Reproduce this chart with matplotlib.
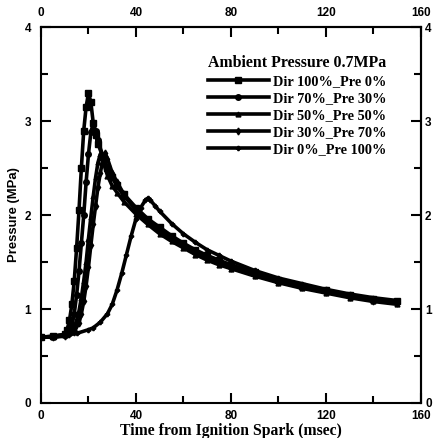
import matplotlib
matplotlib.use("Agg")
import matplotlib.pyplot as plt
from matplotlib.ticker import MultipleLocator

# ---- data ----
t_100 = [0, 5, 10, 11, 12, 13, 14, 15, 16, 17, 18, 19, 20, 21, 22, 23, 24, 26, 28, 30, 32, 35, 40, 45, 50, 55, 60, 65, 70, 75, 80, 90, 100, 110, 120, 130, 140, 150]
p_100 = [0.70, 0.71, 0.73, 0.78, 0.88, 1.05, 1.30, 1.65, 2.05, 2.50, 2.90, 3.15, 3.30, 3.20, 2.98, 2.85, 2.76, 2.62, 2.50, 2.40, 2.32, 2.22, 2.08, 1.96, 1.87, 1.78, 1.70, 1.63, 1.57, 1.52, 1.47, 1.39, 1.31, 1.25, 1.20, 1.15, 1.11, 1.08]

t_70 = [0, 5, 10, 12, 13, 14, 15, 16, 17, 18, 19, 20, 21, 22, 23, 24, 26, 28, 30, 32, 35, 40, 45, 50, 55, 60, 65, 70, 75, 80, 90, 100, 110, 120, 130, 140, 150]
p_70 = [0.70, 0.71, 0.73, 0.76, 0.82, 0.95, 1.15, 1.40, 1.70, 2.00, 2.35, 2.65, 2.88, 2.98, 2.90, 2.80, 2.63, 2.50, 2.40, 2.31, 2.20, 2.06, 1.94, 1.84, 1.76, 1.68, 1.61, 1.55, 1.50, 1.45, 1.37, 1.30, 1.24, 1.19, 1.14, 1.10, 1.07]

t_50 = [0, 5, 10, 12, 14, 15, 16, 17, 18, 19, 20, 21, 22, 23, 24, 25, 26, 28, 30, 32, 35, 40, 45, 50, 55, 60, 65, 70, 75, 80, 90, 100, 110, 120, 130, 140, 150]
p_50 = [0.70, 0.70, 0.72, 0.74, 0.80, 0.88, 0.98, 1.12, 1.30, 1.50, 1.75, 1.98, 2.20, 2.40, 2.56, 2.65, 2.58, 2.42, 2.31, 2.24, 2.14, 2.01, 1.90, 1.80, 1.72, 1.65, 1.58, 1.52, 1.47, 1.43, 1.35, 1.28, 1.22, 1.17, 1.12, 1.08, 1.05]

t_30 = [0, 5, 10, 12, 14, 16, 17, 18, 19, 20, 21, 22, 23, 24, 25, 26, 27, 28, 30, 32, 35, 40, 45, 50, 55, 60, 65, 70, 75, 80, 90, 100, 110, 120, 130, 140, 150]
p_30 = [0.70, 0.70, 0.71, 0.73, 0.76, 0.85, 0.95, 1.08, 1.25, 1.45, 1.68, 1.90, 2.10, 2.30, 2.45, 2.58, 2.66, 2.60, 2.45, 2.35, 2.22, 2.05, 1.93, 1.83, 1.75, 1.67, 1.60, 1.54, 1.49, 1.44, 1.36, 1.29, 1.23, 1.18, 1.13, 1.09, 1.06]

t_0 = [0, 5, 10, 15, 20, 22, 25, 28, 30, 32, 34, 36, 38, 40, 42, 44, 45, 46, 48, 50, 55, 60, 65, 70, 75, 80, 90, 100, 110, 120, 130, 140, 150]
p_0 = [0.70, 0.70, 0.72, 0.74, 0.78, 0.80, 0.86, 0.95, 1.05, 1.20, 1.38, 1.58, 1.78, 1.96, 2.08, 2.16, 2.18, 2.16, 2.10, 2.04, 1.91, 1.80, 1.71, 1.63, 1.57, 1.51, 1.41, 1.33, 1.27, 1.21, 1.16, 1.12, 1.09]

labels = ["Dir 100%_Pre 0%", "Dir 70%_Pre 30%", "Dir 50%_Pre 50%", "Dir 30%_Pre 70%", "Dir 0%_Pre 100%"]
legend_title = "Ambient Pressure 0.7MPa"
x_ticks = [0, 40, 80, 120, 160]
y_ticks = [0, 1, 2, 3, 4]

series = [(t_100, p_100, 's', 5.0), (t_70, p_70, 'o', 4.0), (t_50, p_50, '^', 3.5),
          (t_30, p_30, 'd', 3.5), (t_0, p_0, 'P', 3.0)]

fig = plt.figure(figsize=(4.33, 4.38), dpi=100)
ax = fig.add_axes([0.0947, 0.080, 0.8773, 0.858])

for (t, p, m, ms), lab in zip(series, labels):
    ax.plot(t, p, color='black', lw=2.6, marker=m, ms=ms, label=lab)

ax.set_xlim(0, 160)
ax.set_ylim(0, 4)


def style_axis(a, which_axis, pad):
    a.tick_params(axis=which_axis, which='both', direction='in', width=1.5, color='black')
    a.tick_params(axis=which_axis, which='major', length=7, pad=pad)
    a.tick_params(axis=which_axis, which='minor', length=5)


ax.set_xticks(x_ticks)
ax.set_yticks(y_ticks)
ax.xaxis.set_minor_locator(MultipleLocator(20))
ax.yaxis.set_minor_locator(MultipleLocator(0.5))
ax.tick_params(top=False, right=False, which='both')
style_axis(ax, 'x', 5)
style_axis(ax, 'y', 7)

top = ax.secondary_xaxis('top')
top.set_xticks(x_ticks)
top.xaxis.set_minor_locator(MultipleLocator(20))
style_axis(top, 'x', 6)
right = ax.secondary_yaxis('right')
right.set_yticks(y_ticks)
right.yaxis.set_minor_locator(MultipleLocator(0.5))
style_axis(right, 'y', 3)

for a in (ax, top, right):
    for lab in a.get_xticklabels() + a.get_yticklabels():
        lab.set_fontfamily('Liberation Sans')
        lab.set_fontweight('bold')
        lab.set_fontsize(8.5)
    for sp in a.spines.values():
        sp.set_linewidth(1.5)

ax.set_xlabel("Time from Ignition Spark (msec)", fontfamily='Liberation Serif',
              fontweight='bold', fontsize=11.3, labelpad=0.5)
ax.set_ylabel("Pressure (MPa)", fontfamily='Liberation Sans',
              fontweight='bold', fontsize=9.4, labelpad=3)

leg = ax.legend(loc='upper left', bbox_to_anchor=(0.42, 0.945), frameon=False,
                borderpad=0, handlelength=4.3, handletextpad=0.25,
                labelspacing=0.28, numpoints=1, title=legend_title,
                prop={'family': 'Liberation Serif', 'weight': 'bold', 'size': 10.3})
leg.get_title().set_fontfamily('Liberation Serif')
leg.get_title().set_fontweight('bold')
leg.get_title().set_fontsize(11.4)

fig.savefig("out.png", dpi=100)
